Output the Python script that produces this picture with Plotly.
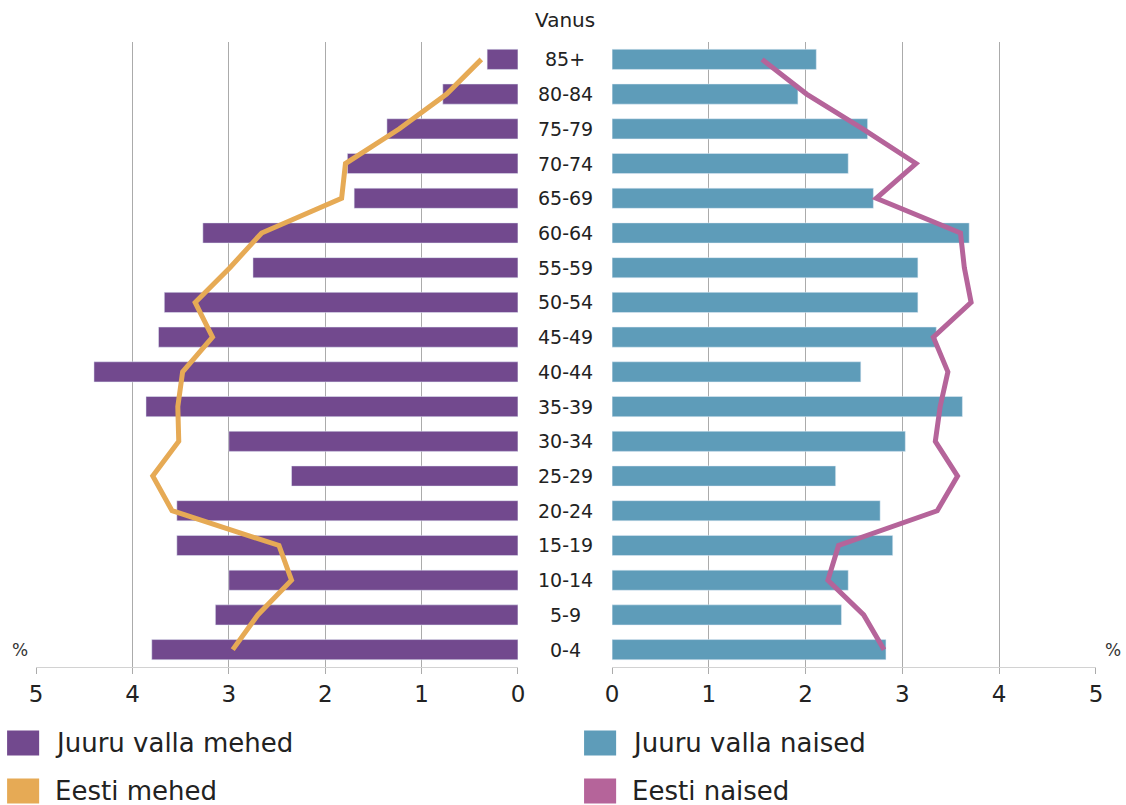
import plotly.graph_objects as go

ages = ["0-4", "5-9", "10-14", "15-19", "20-24", "25-29", "30-34", "35-39", "40-44",
        "45-49", "50-54", "55-59", "60-64", "65-69", "70-74", "75-79", "80-84", "85+"]

juuru_mehed = [3.80, 3.14, 3.00, 3.54, 3.54, 2.35, 3.00, 3.86, 4.40,
               3.73, 3.67, 2.75, 3.27, 1.70, 1.77, 1.36, 0.78, 0.32]
eesti_mehed = [2.96, 2.70, 2.35, 2.48, 3.59, 3.79, 3.52, 3.53, 3.48,
               3.17, 3.35, 2.99, 2.66, 1.83, 1.79, 1.23, 0.74, 0.38]
juuru_naised = [2.83, 2.37, 2.44, 2.90, 2.77, 2.31, 3.03, 3.62, 2.57,
                3.35, 3.16, 3.16, 3.69, 2.70, 2.44, 2.64, 1.92, 2.11]
eesti_naised = [2.81, 2.60, 2.23, 2.34, 3.36, 3.57, 3.34, 3.39, 3.47,
                3.32, 3.71, 3.64, 3.60, 2.73, 3.14, 2.59, 2.01, 1.55]

tick_vals = [0, 1, 2, 3, 4, 5]
tick_text = ["0", "1", "2", "3", "4", "5"]

C_PURPLE = "#72498E"
C_BLUE = "#5E9CB9"
C_ORANGE = "#E6AA55"
C_PINK = "#B5649A"
FONT = "DejaVu Sans, Liberation Sans, Arial, sans-serif"

W, H = 1134, 805
OX, SX = 7.9, 1126 / 1142  # observed page offset / horizontal squeeze


def fx(px):
    return ((px - OX) / SX) / W


fig = go.Figure()

fig.add_trace(go.Bar(y=ages, x=juuru_mehed, orientation="h", marker_color=C_PURPLE,
                     width=0.58, xaxis="x", yaxis="y", name="Juuru valla mehed"))
fig.add_trace(go.Scatter(y=ages, x=eesti_mehed, mode="lines", line=dict(color=C_ORANGE, width=5),
                         xaxis="x", yaxis="y", name="Eesti mehed"))
fig.add_trace(go.Bar(y=ages, x=juuru_naised, orientation="h", marker_color=C_BLUE,
                     width=0.58, xaxis="x2", yaxis="y2", name="Juuru valla naised"))
fig.add_trace(go.Scatter(y=ages, x=eesti_naised, mode="lines", line=dict(color=C_PINK, width=5),
                         xaxis="x2", yaxis="y2", name="Eesti naised"))

axis_common = dict(tickvals=tick_vals, ticktext=tick_text, showgrid=True, gridcolor="#ABABAB",
                   gridwidth=1, zeroline=False, showline=True, linecolor="#D2D2D2", linewidth=1,
                   ticks="outside", ticklen=6, tickcolor="#ABABAB",
                   tickfont=dict(family=FONT, size=23, color="#222"), fixedrange=True)

fig.update_layout(
    width=W, height=H, autosize=False,
    margin=dict(l=0, r=0, t=42, b=138),
    paper_bgcolor="white", plot_bgcolor="white",
    showlegend=False, barmode="overlay",
    xaxis=dict(domain=[fx(37), fx(518)], range=[5, 0], anchor="y", **axis_common),
    xaxis2=dict(domain=[fx(612), fx(1095)], range=[0, 5], anchor="y2", **axis_common),
    yaxis=dict(domain=[0, 1], anchor="x", type="category", categoryorder="array",
               categoryarray=ages, range=[-0.5, 17.5], showticklabels=False, showgrid=False,
               zeroline=False, showline=False, ticks="", fixedrange=True),
    yaxis2=dict(domain=[0, 1], anchor="x2", type="category", categoryorder="array",
                categoryarray=ages, range=[-0.5, 17.5], showticklabels=False, showgrid=False,
                zeroline=False, showline=False, ticks="", fixedrange=True),
)

annotations = []
for a in ages:
    annotations.append(dict(x=fx(565), y=a, xref="paper", yref="y", text=a, showarrow=False,
                            font=dict(family=FONT, size=19, color="#222"), xanchor="center",
                            yanchor="middle"))
annotations.append(dict(x=fx(565), y=(667 - 20) / 625, xref="paper", yref="paper", text="Vanus",
                        showarrow=False, font=dict(family=FONT, size=20, color="#222"),
                        xanchor="center", yanchor="middle"))
annotations.append(dict(x=fx(21), y=(667 - 650) / 625, xref="paper", yref="paper", text="%",
                        showarrow=False, font=dict(family=FONT, size=17, color="#333"),
                        xanchor="center", yanchor="middle"))
annotations.append(dict(x=fx(1112), y=(667 - 650) / 625, xref="paper", yref="paper", text="%",
                        showarrow=False, font=dict(family=FONT, size=17, color="#333"),
                        xanchor="center", yanchor="middle"))

legend_items = [
    ("Juuru valla mehed", C_PURPLE, 8, 743),
    ("Juuru valla naised", C_BLUE, 584, 743),
    ("Eesti mehed", C_ORANGE, 8, 791),
    ("Eesti naised", C_PINK, 584, 791),
]
shapes = []
for label, col, px, py in legend_items:
    shapes.append(dict(type="rect", xref="paper", yref="paper",
                       x0=fx(px), x1=fx(px + 32),
                       y0=(667 - (py - 12.5)) / 625, y1=(667 - (py + 12.5)) / 625,
                       fillcolor=col, line=dict(width=0)))
    annotations.append(dict(x=fx(px + 46), y=(667 - py) / 625, xref="paper", yref="paper",
                            text=label, showarrow=False, xanchor="left", yanchor="middle",
                            font=dict(family=FONT, size=26, color="#222")))

fig.update_layout(annotations=annotations, shapes=shapes)

fig.write_html(
    "out.html",
    config={"displayModeBar": False, "responsive": False},
    post_script="document.body.style.margin='0';document.body.style.overflow='hidden';"
                "document.documentElement.style.overflow='hidden';",
)
